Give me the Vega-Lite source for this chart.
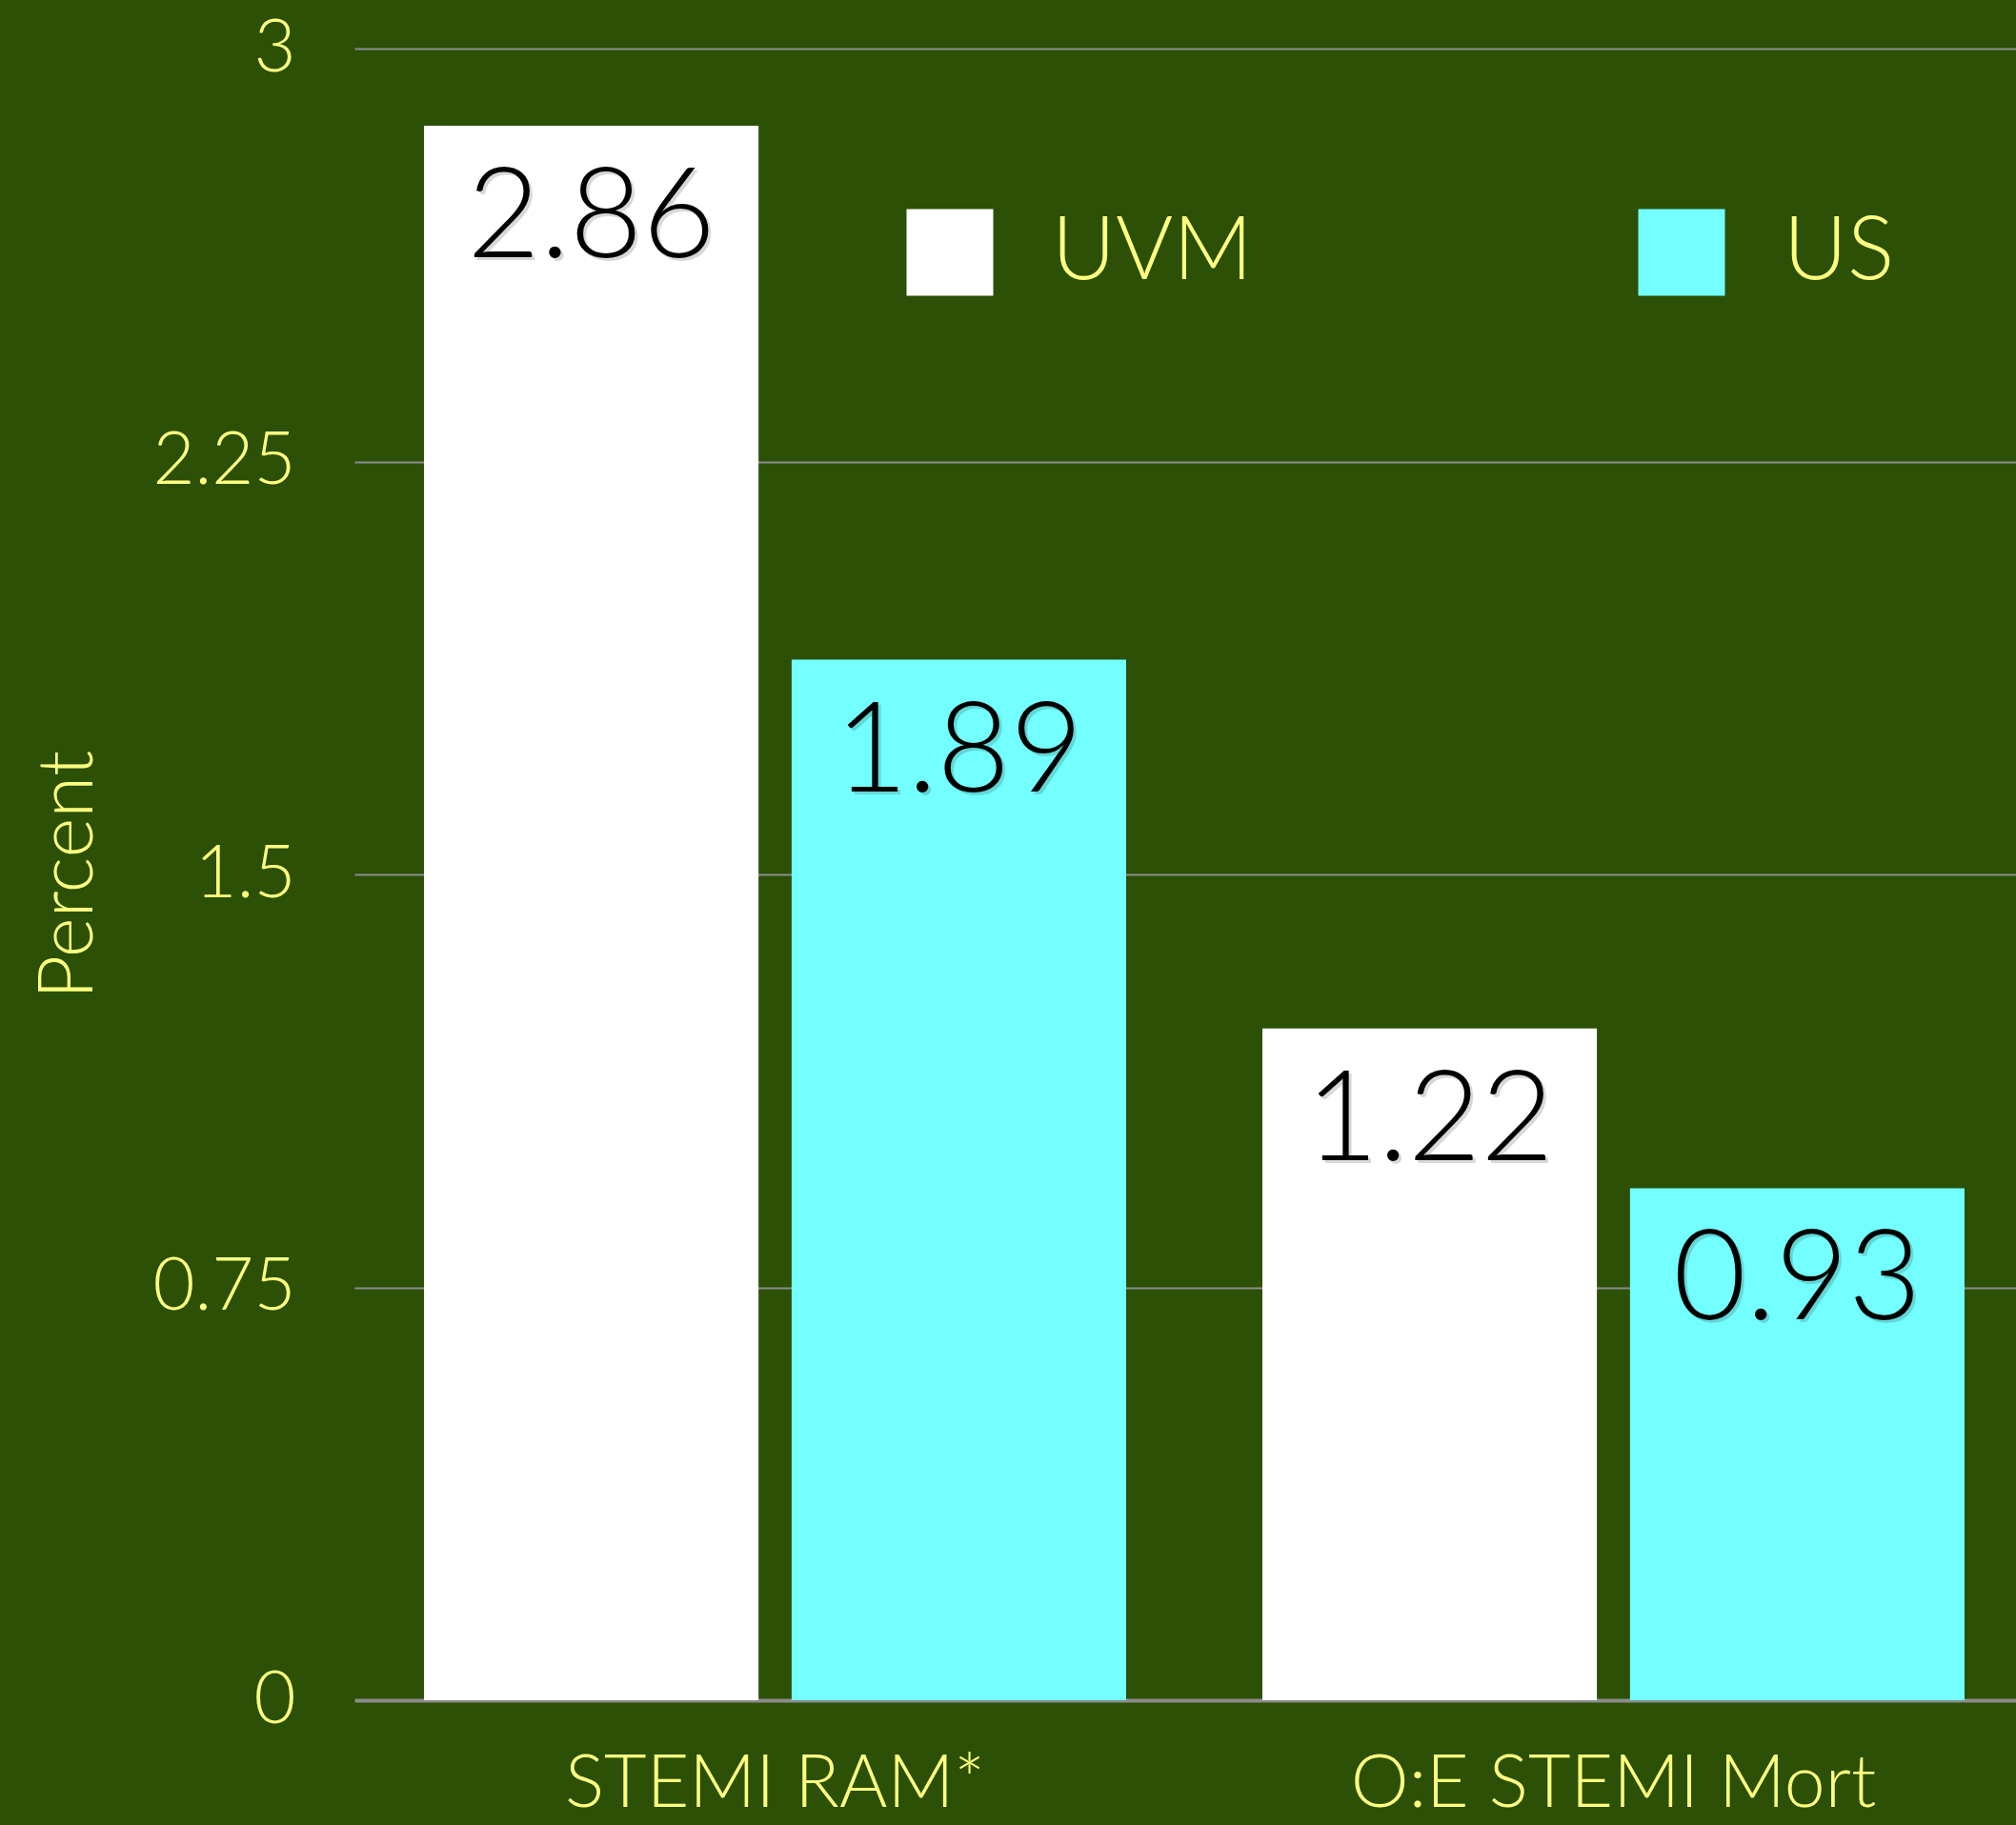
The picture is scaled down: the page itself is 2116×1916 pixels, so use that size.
{
  "$schema": "https://vega.github.io/schema/vega-lite/v6.json",
  "width": 1744,
  "height": 1734,
  "autosize": "none",
  "padding": {"left": 372, "top": 51, "right": 0, "bottom": 131},
  "background": "#2b5006",
  "config": {"view": {"stroke": null}, "font": "Lato"},
  "data": {"values": [
    {"measure": "STEMI RAM*", "site": "UVM", "value": 2.86},
    {"measure": "STEMI RAM*", "site": "US", "value": 1.89},
    {"measure": "O:E STEMI Mort", "site": "UVM", "value": 1.22},
    {"measure": "O:E STEMI Mort", "site": "US", "value": 0.93}
  ]},
  "encoding": {
    "x": {
      "field": "measure", "type": "nominal",
      "sort": ["STEMI RAM*", "O:E STEMI Mort"],
      "scale": {"range": [0, 1763], "paddingInner": 0.1625, "paddingOuter": 0.083},
      "axis": {
        "title": null, "domain": false, "ticks": false, "labelAngle": 0,
        "labelFont": "Lato", "labelFontWeight": 300, "labelFontSize": 77,
        "labelColor": "#ffff80", "labelPadding": 50, "labelLimit": 0
      }
    },
    "xOffset": {"field": "site", "type": "nominal", "sort": ["UVM", "US"], "scale": {"paddingInner": 0.09}},
    "y": {
      "field": "value", "type": "quantitative",
      "scale": {"domain": [0, 3], "nice": false},
      "axis": {
        "title": "Percent", "values": [0, 0.75, 1.5, 2.25, 3],
        "labelExpr": "'' + datum.value",
        "domain": false, "ticks": false,
        "labelFont": "Lato", "labelFontWeight": 300, "labelFontSize": 76,
        "labelColor": "#ffff80", "labelPadding": 62,
        "grid": true, "gridColor": "#8c8c8c",
        "gridWidth": {"condition": {"test": "datum.value === 0", "value": 4}, "value": 2},
        "titleFont": "Lato", "titleFontWeight": 300, "titleFontSize": 80,
        "titleColor": "#ffff80", "titleX": -300, "titleY": 867,
        "titleAngle": -90, "titleAlign": "center", "titleBaseline": "middle"
      }
    }
  },
  "layer": [
    {
      "mark": {"type": "bar"},
      "encoding": {
        "color": {
          "field": "site", "type": "nominal", "sort": ["UVM", "US"],
          "scale": {"range": ["#ffffff", "#73ffff"]},
          "legend": {
            "orient": "none", "legendX": 579, "legendY": 168,
            "direction": "horizontal", "title": null,
            "symbolType": "square", "symbolSize": 8281, "symbolStrokeWidth": 0,
            "symbolOpacity": 1, "labelFont": "Lato", "labelFontWeight": 300,
            "labelFontSize": 92, "labelColor": "#ffff80", "labelOffset": 61,
            "labelLimit": 0, "columnPadding": 404, "padding": 0, "offset": 0
          }
        }
      }
    },
    {
      "mark": {"type": "text", "dy": 141, "dx": 3, "baseline": "alphabetic", "align": "center",
               "font": "Lato", "fontWeight": 300, "fontSize": 132, "color": "#000000", "opacity": 0.15},
      "encoding": {"text": {"field": "value", "type": "quantitative", "format": ".2f"}}
    },
    {
      "mark": {"type": "text", "dy": 138, "baseline": "alphabetic", "align": "center",
               "font": "Lato", "fontWeight": 300, "fontSize": 132, "color": "#000000"},
      "encoding": {"text": {"field": "value", "type": "quantitative", "format": ".2f"}}
    }
  ]
}
